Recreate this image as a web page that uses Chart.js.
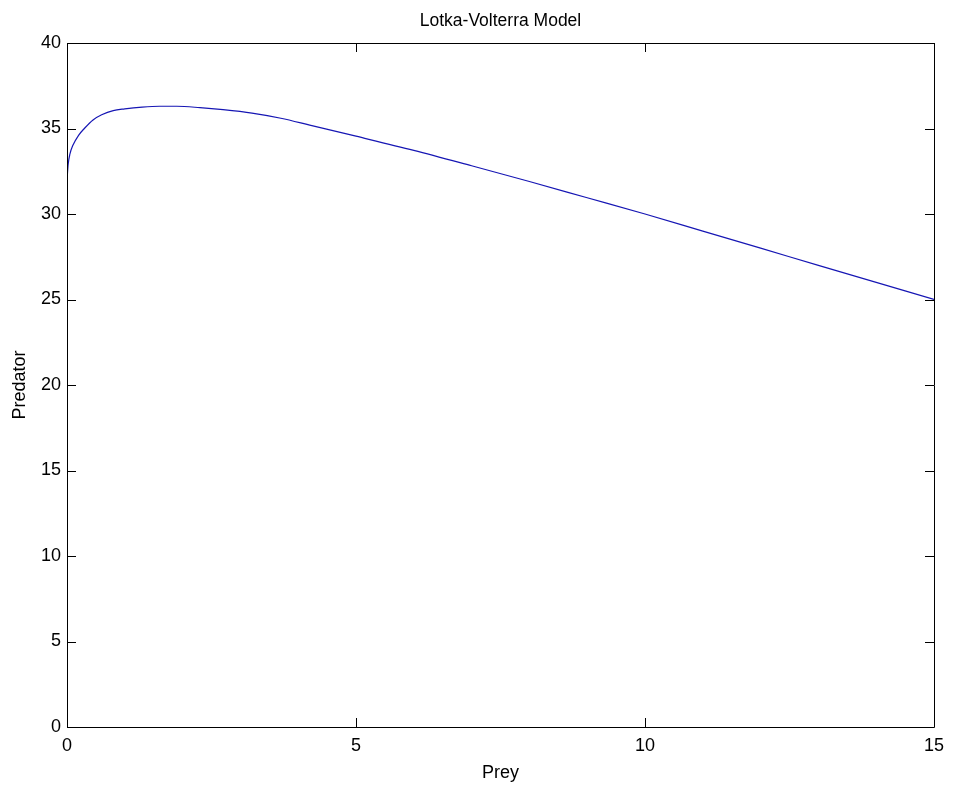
<!DOCTYPE html>
<html>
<head>
<meta charset="utf-8">
<title>Lotka-Volterra Model</title>
<script src="https://cdn.jsdelivr.net/npm/chart.js@4.4.1/dist/chart.umd.min.js"></script>
<style>
  html, body { margin: 0; padding: 0; background: #fff; }
  #wrap { width: 953px; height: 785px; }
</style>
</head>
<body>
<div id="wrap"><canvas id="chart"></canvas></div>
<script>
// values
const prey = [0, 0.02, 0.05, 0.1, 0.2, 0.3, 0.45, 0.6, 0.8, 1.0, 1.3, 1.6, 1.9, 2.3, 2.7, 3.2, 3.7, 4.2, 5, 6, 7, 8, 9, 10, 11, 12, 13, 14, 15];
const predator = [32.0, 32.9, 33.5, 34.0, 34.6, 35.0, 35.5, 35.8, 36.05, 36.15, 36.25, 36.3, 36.3, 36.22, 36.1, 35.9, 35.6, 35.2, 34.55, 33.72, 32.82, 31.9, 30.95, 30.0, 29.0, 28.0, 27.0, 26.0, 25.0];
const xTicks = [0, 5, 10, 15];
const yTicks = [0, 5, 10, 15, 20, 25, 30, 35, 40];

const FONT = 'Liberation Sans, Arial, Helvetica, sans-serif';

// matlab style box + inward ticks on all four sides
const boxTicks = {
  id: 'boxTicks',
  afterDraw(chart) {
    const { ctx, chartArea: a, scales: { x, y } } = chart;
    const len = 9;
    ctx.save();
    ctx.strokeStyle = '#000';
    ctx.lineWidth = 1;
    ctx.beginPath();
    ctx.rect(Math.round(a.left) + 0.5, Math.round(a.top) + 0.5, Math.round(a.right - a.left), Math.round(a.bottom - a.top));
    xTicks.forEach(v => {
      const px = Math.round(x.getPixelForValue(v)) + 0.5;
      ctx.moveTo(px, a.bottom); ctx.lineTo(px, a.bottom - len);
      ctx.moveTo(px, a.top); ctx.lineTo(px, a.top + len);
    });
    yTicks.forEach(v => {
      const py = Math.round(y.getPixelForValue(v)) + 0.5;
      ctx.moveTo(a.left, py); ctx.lineTo(a.left + len, py);
      ctx.moveTo(a.right, py); ctx.lineTo(a.right - len, py);
    });
    ctx.stroke();
    ctx.restore();
  }
};

const ctx = document.getElementById('chart').getContext('2d');
new Chart(ctx, {
  type: 'scatter',
  data: {
    datasets: [{
      label: 'Predator vs Prey',
      data: prey.map((p, i) => ({ x: p, y: predator[i] })),
      showLine: true,
      borderColor: '#1616b4',
      borderWidth: 1.2,
      pointRadius: 0,
      cubicInterpolationMode: 'monotone',
      fill: false
    }]
  },
  options: {
    responsive: true,
    maintainAspectRatio: false,
    animation: false,
    layout: { padding: { left: 0, right: 19, top: 0, bottom: 0 } },
    plugins: {
      legend: { display: false },
      tooltip: { enabled: false },
      title: {
        display: true,
        fullSize: false,
        text: 'Lotka-Volterra Model',
        color: '#000',
        font: { family: FONT, size: 17.5, weight: 'normal' },
        padding: { top: 11, bottom: 11 }
      }
    },
    scales: {
      x: {
        type: 'linear',
        min: 0, max: 15,
        afterBuildTicks: s => { s.ticks = xTicks.map(v => ({ value: v })); },
        afterFit: s => { s.height = 58; },
        grid: { display: false, drawTicks: false },
        border: { display: false },
        ticks: { color: '#000', padding: 8, font: { family: FONT, size: 18 } },
        title: { display: true, text: 'Prey', color: '#000', padding: { top: 0, bottom: 1 }, font: { family: FONT, size: 18 } }
      },
      y: {
        type: 'linear',
        min: 0, max: 40,
        afterBuildTicks: s => { s.ticks = yTicks.map(v => ({ value: v })); },
        afterFit: s => { s.width = 67; },
        grid: { display: false, drawTicks: false },
        border: { display: false },
        ticks: { color: '#000', padding: 6, font: { family: FONT, size: 18 } },
        title: { display: true, text: 'Predator', color: '#000', padding: { top: 9, bottom: 0 }, font: { family: FONT, size: 18 } }
      }
    }
  },
  plugins: [boxTicks]
});
</script>
</body>
</html>
